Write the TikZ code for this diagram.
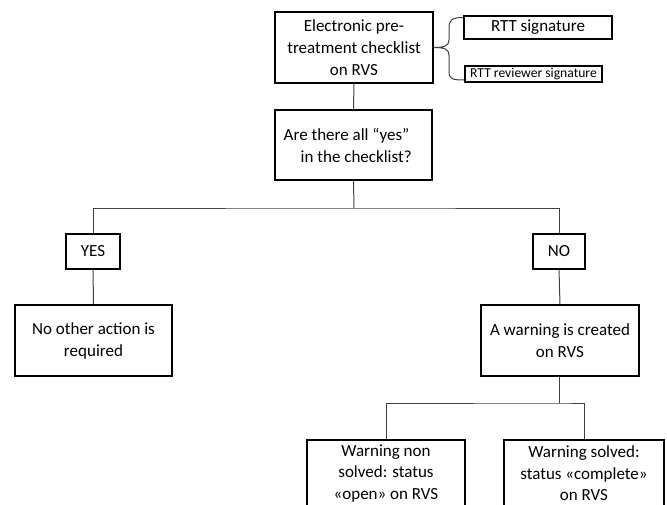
\documentclass[tikz,border=0pt]{standalone}
\usepackage{fontspec}
\setmainfont{Carlito}
\begin{document}
\begin{tikzpicture}[x=1pt,y=-1pt,
  box/.style={draw=black,line width=1.6pt,align=center,inner sep=0pt,
    font=\fontsize{17}{22}\selectfont},
  conn/.style={draw=black!75,line width=1pt}]
\useasboundingbox (0,0) rectangle (667,504);
\clip (0,0) rectangle (667,504);
\node[box,minimum width=158,minimum height=71] (check) at (354,47.5) {Electronic pre-\\treatment checklist\\on RVS};
\node[box,minimum width=148,minimum height=23] (sig) at (538,27.5) {RTT signature};
\node[box,minimum width=137,minimum height=16,font=\fontsize{13.6}{16}\selectfont] (rev) at (533.5,74) {RTT reviewer signature};
\node[box,minimum width=157,minimum height=70,align=left] (q) at (353.5,145) {Are there all “yes”\hspace*{14pt}\\\hspace*{17pt}in the checklist?};
\node[box,minimum width=54,minimum height=35] (yes) at (93,251.5) {YES};
\node[box,minimum width=52,minimum height=35] (no) at (559,251.5) {NO};
\node[box,minimum width=157,minimum height=71] (noact) at (93.5,340.5) {No other action is\\required};
\node[box,minimum width=158,minimum height=71] (warn) at (560,340.5) {A warning is created\\on RVS};
\node[box,minimum width=158,minimum height=67,anchor=north,font=\fontsize{17}{21.5}\selectfont] (open) at (386,439) {Warning non\\solved: status\\«open» on RVS};
\node[box,minimum width=160,minimum height=67,anchor=north,font=\fontsize{17}{21.5}\selectfont] (done) at (584,439) {Warning solved:\\status «complete»\\on RVS};
% brace
\coordinate (bt) at (check.east);
\draw[conn] (sig.west|-0,17.5) .. controls (452,17.5) and (449,20) .. (449,28) -- (449,40)
  .. controls (449,46) and (444,47.5) .. (bt)
  .. controls (444,47.5) and (449,49) .. (449,55) -- (449,71)
  .. controls (449,79) and (452,80) .. (rev.west|-0,80);
% connectors
\draw[conn] (check.south) -- (q.north);
\coordinate (hb) at (354,208);
\draw[conn] (q.south) -- (hb);
\draw[conn] (yes.north) |- (hb) -| (no.north);
\draw[conn] (yes.south) -- (noact.north);
\draw[conn] (no.south) -- (warn.north);
\coordinate (hb2) at (559,403);
\draw[conn] (warn.south-|hb2) -- (hb2);
\draw[conn] (open.north) |- (hb2) -| (done.north);
\end{tikzpicture}
\end{document}
